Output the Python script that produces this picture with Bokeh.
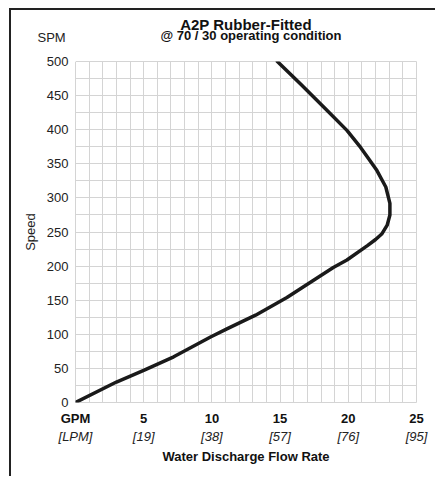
from bokeh.plotting import figure
from bokeh.models import (LinearAxis, Title, SingleIntervalTicker, FixedTicker, Range1d)
from bokeh.embed import file_html
from bokeh.resources import INLINE

# data (GPM, SPM)
gpm = [0, 3.0, 5.0, 7.2, 9.9, 11.1, 13.2, 15.5, 17.2, 18.9, 19.9, 21.4, 22.0, 22.45,
       22.85, 23.05, 23.05, 22.75, 22.1, 21.4, 20.9, 19.9, 18.45, 16.5, 14.8]
spm = [0, 30, 47, 67, 96, 108, 128, 154, 176, 198, 209, 230, 239, 247,
       260, 275, 292, 316, 340, 360, 374, 399, 428, 467, 500]

x_ticks = [0, 5, 10, 15, 20, 25]
x_labels = ["GPM", "5", "10", "15", "20", "25"]
lpm_labels = ["[LPM]", "[19]", "[38]", "[57]", "[76]", "[95]"]
y_ticks = [0, 50, 100, 150, 200, 250, 300, 350, 400, 450, 500]

FONT = "Liberation Sans"
GRID = "#d4d4d4"
FS = "13px"

p = figure(width=426, height=468, output_backend="svg", toolbar_location=None,
           x_range=Range1d(0, 25), y_range=Range1d(0, 500),
           min_border_left=64, min_border_right=21, min_border_top=51, min_border_bottom=76,
           x_axis_location=None, y_axis_location=None,
           title="A2P Rubber-Fitted")
p.styles = {"border-left": "2px solid #222", "border-top": "2px solid #222",
            "margin-left": "9px", "margin-top": "8px"}

def plain(ax):
    ax.axis_line_color = None
    ax.major_tick_line_color = None
    ax.minor_tick_line_color = None
    ax.major_tick_out = 0
    ax.major_tick_in = 0
    ax.minor_tick_out = 0
    ax.minor_tick_in = 0

# spacer between frame and the subtitle row: one white tick, no visible label
spacer = LinearAxis(ticker=FixedTicker(ticks=[0]))
spacer.axis_line_color = None
spacer.minor_tick_line_color = None
spacer.major_tick_line_color = "white"
spacer.major_tick_in = 0
spacer.major_tick_out = 24
spacer.minor_tick_out = 0
spacer.minor_tick_in = 0
spacer.major_label_standoff = 0
spacer.major_label_text_color = None
spacer.major_label_text_font_size = "1px"
p.add_layout(spacer, "above")

# "SPM" unit text and the subtitle share one line
spm_title = Title(text="SPM", align="left", offset=-38, text_font=FONT,
                  text_font_size=FS, text_font_style="normal", text_color="#222222",
                  standoff=-15)
p.add_layout(spm_title, "above")
sub = Title(text="@ 70 / 30 operating condition", align="left", offset=85, text_font=FONT,
            text_font_size=FS, text_font_style="bold", text_color="#111111", standoff=-15)
p.add_layout(sub, "above")

# main title
p.title.align = "center"
p.title.text_font = FONT
p.title.text_font_size = "15px"
p.title.text_font_style = "bold"
p.title.text_color = "#111111"
p.title.standoff = 2

# grid
p.xgrid.ticker = SingleIntervalTicker(interval=1)
p.ygrid.ticker = SingleIntervalTicker(interval=25)
p.xgrid.grid_line_color = GRID
p.ygrid.grid_line_color = GRID
p.outline_line_color = GRID

# y axis
yaxis = LinearAxis(ticker=FixedTicker(ticks=y_ticks), axis_label="Speed")
plain(yaxis)
yaxis.major_label_standoff = 7
yaxis.major_label_text_font = FONT
yaxis.major_label_text_font_size = FS
yaxis.major_label_text_color = "#222222"
yaxis.axis_label_text_font = FONT
yaxis.axis_label_text_font_size = FS
yaxis.axis_label_text_font_style = "normal"
yaxis.axis_label_text_color = "#222222"
yaxis.axis_label_standoff = 6
p.add_layout(yaxis, "left")

# x axis: bold GPM numbers
xaxis = LinearAxis(ticker=FixedTicker(ticks=x_ticks),
                   major_label_overrides={t: l for t, l in zip(x_ticks, x_labels)})
plain(xaxis)
xaxis.major_label_standoff = 8
xaxis.major_label_text_font = FONT
xaxis.major_label_text_font_size = FS
xaxis.major_label_text_font_style = "bold"
xaxis.major_label_text_color = "#111111"
p.add_layout(xaxis, "below")

# x axis: italic LPM values + title
xaxis2 = LinearAxis(ticker=FixedTicker(ticks=x_ticks),
                    major_label_overrides={t: l for t, l in zip(x_ticks, lpm_labels)},
                    axis_label="Water Discharge Flow Rate")
plain(xaxis2)
xaxis2.major_label_standoff = 0
xaxis2.major_label_text_font = FONT
xaxis2.major_label_text_font_size = FS
xaxis2.major_label_text_font_style = "italic"
xaxis2.major_label_text_color = "#222222"
xaxis2.axis_label_text_font = FONT
xaxis2.axis_label_text_font_size = FS
xaxis2.axis_label_text_font_style = "bold"
xaxis2.axis_label_text_color = "#111111"
xaxis2.axis_label_standoff = 2
p.add_layout(xaxis2, "below")

p.line(gpm, spm, line_color="#1a1a1a", line_width=3.5, line_join="round", line_cap="round")

open("out.html", "w").write(file_html(p, INLINE))
